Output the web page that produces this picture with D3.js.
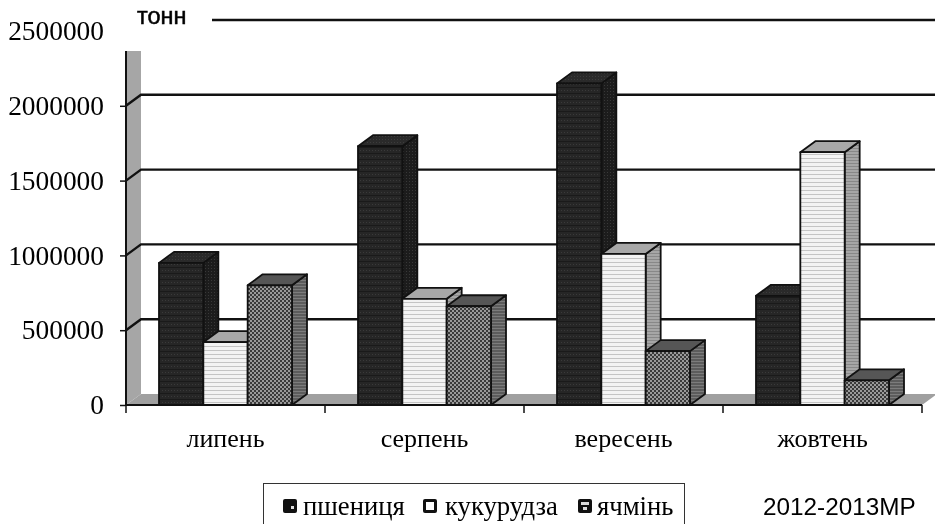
<!DOCTYPE html>
<html>
<head>
<meta charset="utf-8">
<script src="https://cdn.jsdelivr.net/npm/d3@7"></script>
<style>
  html, body { margin: 0; padding: 0; background: #fff; overflow: hidden; }
  svg { display: block; filter: blur(0.4px); }
  text { fill: #000; }
</style>
</head>
<body>
<svg></svg>
<script>
const months = ["липень", "серпень", "вересень", "жовтень"];
const seriesNames = ["пшениця", "кукурудза", "ячмінь"];
const wheat = [950000, 1730000, 2150000, 730000];
const corn = [420000, 710000, 1010000, 1690000];
const barley = [800000, 660000, 360000, 165000];
const yTicks = [0, 500000, 1000000, 1500000, 2000000, 2500000];

const svgWidth = 935;
const svgHeight = 524;
const serif = "'Liberation Serif', serif";
const sans = "'Liberation Sans', sans-serif";
const depth = {x: 15, y: -11};

const svg = d3.select("svg")
  .attr("width", svgWidth)
  .attr("height", svgHeight);

const y = d3.scaleLinear().domain([0, 2500000]).range([405, 31]);
const x = d3.scaleBand().domain(months).range([126, 922]);
const inner = d3.scaleBand().domain(seriesNames).range([33, 166]);

// fill patterns for the three series
const defs = svg.append("defs");
function pattern(id, w, h, bg, marks) {
  const p = defs.append("pattern").attr("id", id)
    .attr("patternUnits", "userSpaceOnUse")
    .attr("width", w).attr("height", h);
  p.append("rect").attr("width", w).attr("height", h).attr("fill", bg);
  marks.forEach(m => p.append("rect")
    .attr("x", m[0]).attr("y", m[1]).attr("width", m[2]).attr("height", m[3]).attr("fill", m[4]));
}
pattern("wheatFront", 3, 6, "#262626", [[0, 0, 1, 1, "#3a3a3a"], [0, 3, 3, 1, "#1a1a1a"]]);
pattern("wheatSide", 3, 3, "#1c1c1c", [[1, 1, 1, 1, "#383838"]]);
pattern("wheatTop", 3, 3, "#2a2a2a", [[1, 1, 1, 1, "#3c3c3c"]]);
pattern("cornFront", 4, 4, "#f3f3f3", [[0, 2, 4, 1, "#c4c4c4"]]);
pattern("cornSide", 3, 3, "#a6a6a6", [[0, 1, 3, 1, "#888"]]);
pattern("barleyFront", 4, 4, "#9a9a9a", [[0, 0, 2, 2, "#3a3a3a"], [2, 2, 2, 2, "#3a3a3a"]]);
pattern("barleySide", 3, 3, "#5c5c5c", [[0, 1, 3, 1, "#7c7c7c"]]);

const faces = [
  {front: "url(#wheatFront)", top: "url(#wheatTop)", side: "url(#wheatSide)"},
  {front: "url(#cornFront)", top: "#a8a8a8", side: "url(#cornSide)"},
  {front: "url(#barleyFront)", top: "#565656", side: "url(#barleySide)"}
];

const poly = pts => pts.map(p => p.join(",")).join(" ");
const x0 = x.range()[0];
const x1 = x.range()[1];
const y0 = y(0);

// left wall and floor
svg.append("polygon")
  .attr("points", poly([[x0, 51], [x0 + depth.x, 51], [x0 + depth.x, y0 + depth.y], [x0, y0]]))
  .attr("fill", "#a6a6a6");
svg.append("polygon")
  .attr("points", poly([[x0, y0], [x0 + depth.x, y0 + depth.y], [x1 + depth.x, y0 + depth.y], [x1, y0]]))
  .attr("fill", "#a0a0a0");

// grid lines on the back wall, with the slanted part on the side wall
const grid = svg.append("g").attr("fill", "none").attr("stroke", "#111").attr("stroke-width", 2.4);
yTicks.filter(d => d > 0 && d < 2500000).forEach(d => {
  grid.append("polyline")
    .attr("points", poly([[x0, y(d)], [x0 + depth.x, y(d) + depth.y], [svgWidth, y(d) + depth.y]]));
});
grid.append("line")
  .attr("x1", 212).attr("x2", svgWidth)
  .attr("y1", y(2500000) + depth.y).attr("y2", y(2500000) + depth.y);

// bars, painted left to right so later bars cover earlier sides
[wheat, corn, barley].forEach((values, s) => {
  values.forEach((v, i) => {
    const g = svg.append("g").attr("class", "bar")
      .attr("stroke", "#111").attr("stroke-width", 1.8).attr("stroke-linejoin", "round");
    const left = x(months[i]) + inner(seriesNames[s]);
    const w = inner.bandwidth();
    const top = y(v);
    g.append("polygon")
      .attr("points", poly([[left + w, top], [left + w + depth.x, top + depth.y], [left + w + depth.x, y0 + depth.y], [left + w, y0]]))
      .attr("fill", faces[s].side);
    g.append("polygon")
      .attr("points", poly([[left, top], [left + depth.x, top + depth.y], [left + w + depth.x, top + depth.y], [left + w, top]]))
      .attr("fill", faces[s].top);
    g.append("rect")
      .attr("x", left).attr("y", top).attr("width", w).attr("height", y0 - top)
      .attr("fill", faces[s].front);
  });
});

// axes
const yAxis = svg.append("g")
  .attr("transform", `translate(${x0},0)`)
  .call(d3.axisLeft(y).tickValues(yTicks).tickFormat(d3.format("d")).tickSize(6).tickPadding(16).tickSizeOuter(0));
yAxis.select(".domain").attr("stroke", "#111").attr("stroke-width", 2).attr("d", `M0,51V${y0}`);
yAxis.selectAll(".tick line").attr("stroke", "#111").attr("stroke-width", 1.5);
yAxis.selectAll(".tick").filter(d => d === 2500000).select("line").remove();
yAxis.selectAll("text").attr("font-family", serif).attr("font-size", 27.4).attr("fill", "#000");

const xAxis = svg.append("g")
  .attr("transform", `translate(0,${y0})`)
  .call(d3.axisBottom(x).tickSize(0).tickPadding(24));
xAxis.select(".domain").attr("stroke", "#111").attr("stroke-width", 2).attr("d", `M${x0},0H${x1}`);
xAxis.selectAll(".tick line").remove();
xAxis.selectAll("text").attr("font-family", serif).attr("font-size", 26).attr("fill", "#000");
xAxis.selectAll(".sep")
  .data([0, 1, 2, 3, 4])
  .join("line")
  .attr("class", "sep")
  .attr("x1", d => x0 + d * x.step()).attr("x2", d => x0 + d * x.step())
  .attr("y1", 0).attr("y2", 8)
  .attr("stroke", "#111").attr("stroke-width", 1.5);

// unit label
svg.append("text").attr("x", 137).attr("y", 24)
  .attr("font-family", sans).attr("font-size", 23.5)
  .attr("stroke", "#000").attr("stroke-width", 0.5).text("тонн");

// legend
svg.append("rect")
  .attr("x", 263.5).attr("y", 483.5).attr("width", 421).attr("height", 50)
  .attr("fill", "#fff").attr("stroke", "#333").attr("stroke-width", 1);

const legendGlyphX = [283, 423, 578];
const legendTextX = [303, 445, 597];
seriesNames.forEach((name, i) => {
  const g = svg.append("g").attr("class", "legend-item");
  g.append("rect").attr("x", legendGlyphX[i]).attr("y", 499).attr("width", 14).attr("height", 14)
    .attr("rx", 2).attr("fill", "#111");
  if (i === 0) {
    g.append("rect").attr("x", legendGlyphX[i] + 8).attr("y", 506).attr("width", 3).attr("height", 3).attr("fill", "#ddd");
  } else if (i === 1) {
    g.append("rect").attr("x", legendGlyphX[i] + 3).attr("y", 502).attr("width", 8).attr("height", 8).attr("fill", "#fff");
  } else {
    g.append("rect").attr("x", legendGlyphX[i] + 3).attr("y", 502).attr("width", 8).attr("height", 3).attr("fill", "#ddd");
    g.append("rect").attr("x", legendGlyphX[i] + 5).attr("y", 507).attr("width", 4).attr("height", 3).attr("fill", "#ddd");
  }
  g.append("text").attr("x", legendTextX[i]).attr("y", 515)
    .attr("font-family", serif).attr("font-size", 26.7).text(name);
});

svg.append("text").attr("x", 763).attr("y", 515)
  .attr("font-family", sans).attr("font-size", 24.3).text("2012-2013МР");
</script>
</body>
</html>
